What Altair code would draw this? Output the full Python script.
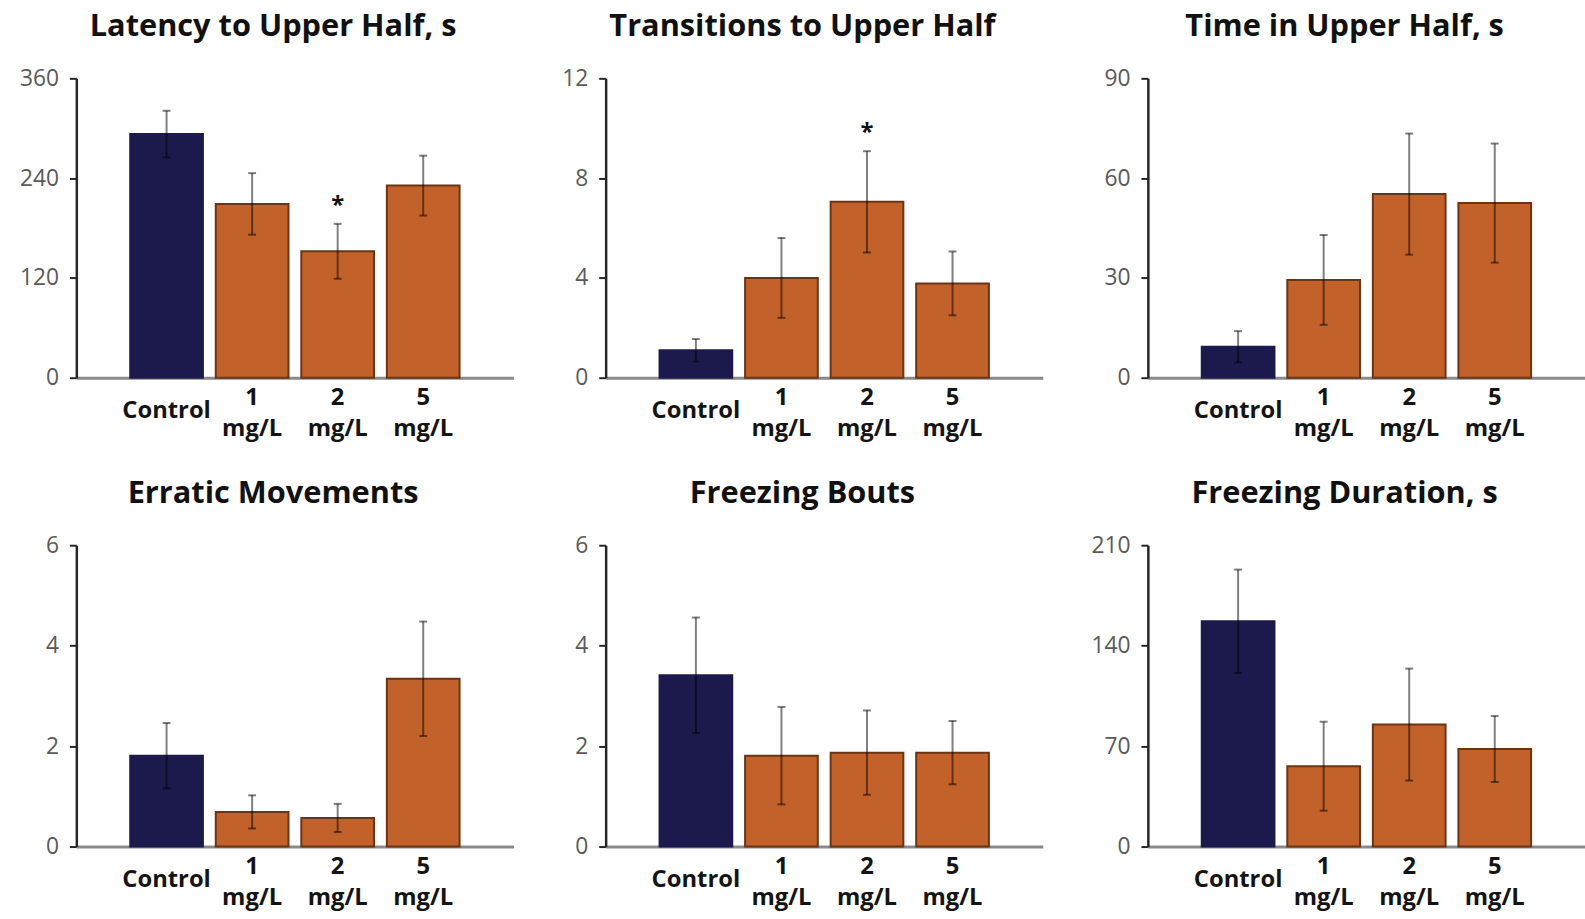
import altair as alt
import pandas as pd

groups = ["Control", "1 mg/L", "2 mg/L", "5 mg/L"]

titles = [
    "Latency to Upper Half, s",
    "Transitions to Upper Half",
    "Time in Upper Half, s",
    "Erratic Movements",
    "Freezing Bouts",
    "Freezing Duration, s",
]

latency_mean = [293, 209, 152, 231]
latency_err = [28, 37, 33, 36]
latency_star = ["", "", "*", ""]

transitions_mean = [1.1, 4.0, 7.05, 3.78]
transitions_err = [0.45, 1.6, 2.03, 1.28]
transitions_star = ["", "", "*", ""]

time_mean = [9.3, 29.4, 55.2, 52.5]
time_err = [4.7, 13.5, 18.2, 17.9]
time_star = ["", "", "", ""]

erratic_mean = [1.81, 0.69, 0.57, 3.34]
erratic_err = [0.65, 0.33, 0.28, 1.14]
erratic_star = ["", "", "", ""]

bouts_mean = [3.41, 1.81, 1.87, 1.87]
bouts_err = [1.15, 0.97, 0.84, 0.63]
bouts_star = ["", "", "", ""]

duration_mean = [157, 56, 85, 68]
duration_err = [36, 31, 39, 23]
duration_star = ["", "", "", ""]

y_ticks = [
    [0, 120, 240, 360],
    [0, 4, 8, 12],
    [0, 30, 60, 90],
    [0, 2, 4, 6],
    [0, 2, 4, 6],
    [0, 70, 140, 210],
]

NAVY = "#1c1a4d"
ORANGE = "#c2622a"
ORANGE_EDGE = "#6b3414"
FONT = "Open Sans"


def panel(title, means, errs, stars, ticks, extent, height):
    df = pd.DataFrame({
        "group": groups,
        "mean": means,
        "err": errs,
        "star": stars,
    })
    df["lo"] = df["mean"] - df["err"]
    df["hi"] = df["mean"] + df["err"]

    x = alt.X(
        "group:N",
        sort=groups,
        scale=alt.Scale(paddingInner=0.15, paddingOuter=0.63),
        axis=alt.Axis(
            title=None,
            labelAngle=0,
            labelExpr="split(datum.label, ' ')",
            labelBaseline="middle",
            labelPadding={"condition": {"test": "datum.value == 'Control'", "value": 33}, "value": 20},
            labelFont=FONT,
            labelFontSize=24,
            labelFontWeight="bold",
            labelColor="#141414",
            labelLineHeight=31,
            ticks=False,
            tickSize=0,
            domainColor="#8a8a8a",
            domainWidth=3,
        ),
    )
    yscale = alt.Scale(domain=[ticks[0], ticks[-1]], nice=False)
    y = alt.Y(
        "mean:Q",
        scale=yscale,
        axis=alt.Axis(
            title=None,
            values=ticks,
            grid=False,
            domainColor="#262626",
            domainWidth=2.5,
            tickColor="#262626",
            tickWidth=2,
            tickSize=7,
            labelFont=FONT,
            labelFontSize=23,
            labelColor="#5a5a5a",
            labelPadding=11,
            minExtent=extent,
            maxExtent=extent,
        ),
    )
    color = alt.Color(
        "group:N",
        scale=alt.Scale(domain=groups, range=[NAVY, ORANGE, ORANGE, ORANGE]),
        legend=None,
    )
    stroke = alt.Stroke(
        "group:N",
        scale=alt.Scale(domain=groups, range=[NAVY, ORANGE_EDGE, ORANGE_EDGE, ORANGE_EDGE]),
        legend=None,
    )
    base = alt.Chart(df)
    bars = base.mark_bar(strokeWidth=2).encode(x=x, y=y, color=color, stroke=stroke)
    rule = base.mark_rule(color="black", opacity=0.5, strokeWidth=2).encode(
        x=alt.X("group:N", sort=groups),
        y=alt.Y("lo:Q", scale=yscale),
        y2="hi:Q",
    )
    cap_hi = base.mark_tick(color="black", opacity=0.5, size=8, thickness=2).encode(
        x=alt.X("group:N", sort=groups),
        y=alt.Y("hi:Q", scale=yscale),
    )
    cap_lo = base.mark_tick(color="black", opacity=0.5, size=8, thickness=2).encode(
        x=alt.X("group:N", sort=groups),
        y=alt.Y("lo:Q", scale=yscale),
    )
    star = base.transform_filter("datum.star != ''").mark_text(
        font=FONT, fontSize=24, fontWeight="bold", color="#111111",
        baseline="alphabetic", dy=-11,
    ).encode(
        x=alt.X("group:N", sort=groups),
        y=alt.Y("hi:Q", scale=yscale),
        text="star:N",
    )
    return alt.layer(bars, rule, cap_hi, cap_lo, star).properties(
        width=441,
        height=height,
        title=alt.TitleParams(
            title, font=FONT, fontSize=31, fontWeight="bold", color="#111111",
            anchor="middle", frame="group", dx=-22, offset=25,
        ),
    )


extents = [72, 53, 66]
top = alt.hconcat(
    panel(titles[0], latency_mean, latency_err, latency_star, y_ticks[0], extents[0], 302),
    panel(titles[1], transitions_mean, transitions_err, transitions_star, y_ticks[1], extents[1], 302),
    panel(titles[2], time_mean, time_err, time_star, y_ticks[2], extents[2], 302),
    spacing=40,
)
bottom = alt.hconcat(
    panel(titles[3], erratic_mean, erratic_err, erratic_star, y_ticks[3], extents[0], 304),
    panel(titles[4], bouts_mean, bouts_err, bouts_star, y_ticks[4], extents[1], 304),
    panel(titles[5], duration_mean, duration_err, duration_star, y_ticks[5], extents[2], 304),
    spacing=40,
)
chart = alt.vconcat(top, bottom, spacing=38).properties(
    padding={"left": 5, "top": 7, "right": 0, "bottom": 0},
    background="white",
).configure_view(stroke=None)

chart.save("out.html", embed_options={"renderer": "svg", "actions": False})
